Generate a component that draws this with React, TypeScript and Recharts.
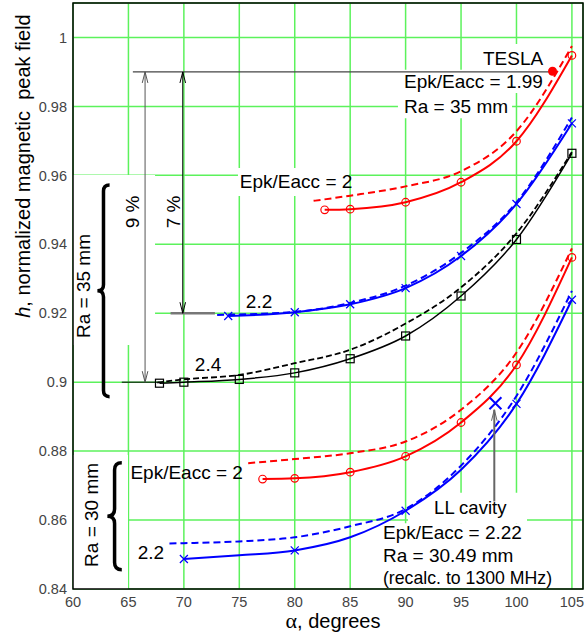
import React from "react";
import {
  LineChart,
  Line,
  XAxis,
  YAxis,
  CartesianGrid,
  ReferenceLine,
  ReferenceDot,
  ReferenceArea,
  Label,
} from "recharts";

const alphaTicks = [60, 65, 70, 75, 80, 85, 90, 95, 100, 105];
const hTicks = [0.84, 0.86, 0.88, 0.9, 0.92, 0.94, 0.96, 0.98, 1];

// Ra = 35 mm, Epk/Eacc = 2 (red)
const r35e2Alpha = [82.7, 85, 90, 95, 100, 105];
const r35e2H = [0.95, 0.9502, 0.9522, 0.958, 0.9699, 0.9948];
const r35e2DashAlpha = [81.7, 85, 90, 95, 100, 105];
const r35e2DashH = [0.9526, 0.9541, 0.9568, 0.9612, 0.9728, 0.9975];

// Ra = 35 mm, Epk/Eacc = 2.2 (blue)
const r35e22Alpha = [74, 80, 85, 90, 95, 100, 105];
const r35e22H = [0.9192, 0.9203, 0.9226, 0.9273, 0.9366, 0.9517, 0.9751];
const r35e22DashAlpha = [73, 80, 85, 90, 95, 100, 105];
const r35e22DashH = [0.9195, 0.9204, 0.923, 0.928, 0.9375, 0.9522, 0.9768];

// Ra = 35 mm, Epk/Eacc = 2.4 (black)
const r35e24Alpha = [67.8, 70, 75, 80, 85, 90, 95, 100, 105];
const r35e24H = [0.8997, 0.9, 0.9008, 0.9027, 0.9068, 0.9134, 0.925, 0.9414, 0.9664];
const r35e24DashAlpha = [67.6, 70, 75, 80, 85, 90, 95, 100, 105];
const r35e24DashH = [0.8999, 0.9008, 0.9021, 0.9055, 0.9094, 0.917, 0.9275, 0.9432, 0.9668];

// Ra = 30 mm, Epk/Eacc = 2 (red)
const r30e2Alpha = [77.1, 80, 85, 90, 95, 100, 105];
const r30e2H = [0.8719, 0.8721, 0.8739, 0.8785, 0.8883, 0.905, 0.9362];
const r30e2DashAlpha = [75.8, 80, 85, 90, 95, 100, 105];
const r30e2DashH = [0.8765, 0.8777, 0.8794, 0.8828, 0.892, 0.9086, 0.9388];

// Ra = 30 mm, Epk/Eacc = 2.2 (blue)
const r30e22Alpha = [70, 75, 80, 85, 90, 95, 100, 105];
const r30e22H = [0.8487, 0.8498, 0.8512, 0.855, 0.8627, 0.8746, 0.8937, 0.9239];
const r30e22Marked = [70, 80, 90, 100, 105];
const r30e22DashAlpha = [68.7, 70, 75, 80, 85, 90, 95, 100, 105];
const r30e22DashH = [0.8532, 0.8533, 0.8538, 0.855, 0.8582, 0.8632, 0.8758, 0.896, 0.9265];

// single cavities
const teslaAlpha = 103.25;
const teslaH = 0.9902;
const llAlpha = 98.1;
const llH = 0.8939;

const pts = (xs: number[], ys: number[]) => xs.map((x, i) => ({ x, y: ys[i] }));

const FONT = '"Liberation Sans", Arial, sans-serif';
const GRID = "#5cf25c";

// white text regions that hide the grid
const boxes = [
  [60, 67.4, 0.9601, 0.9108],
  [60, 64.96, 0.8789, 0.84],
  [74.88, 84.89, 0.9621, 0.954],
  [96.8, 102.66, 0.9981, 0.9906],
  [89.31, 102.66, 0.9906, 0.9839],
  [89.31, 99.6, 0.9839, 0.9766],
  [90.22, 100.95, 0.8679, 0.8591],
  [87.69, 104.47, 0.8591, 0.8403],
];

const labels = [
  { text: "9 %", x: 65.36, y: 0.9494, rotate: true },
  { text: "7 %", x: 69.03, y: 0.9494, rotate: true },
  { text: "Ra = 35 mm", x: 60.97, y: 0.9279, rotate: true },
  { text: "Ra = 30 mm", x: 61.69, y: 0.8615, rotate: true },
  { text: "Epk/Eacc = 2", x: 65.18, y: 0.8738 },
  { text: "2.2", x: 65.84, y: 0.8506 },
  { text: "Epk/Eacc = 2", x: 75.05, y: 0.9581 },
  { text: "2.2", x: 75.59, y: 0.9234 },
  { text: "2.4", x: 70.99, y: 0.905 },
  { text: "TESLA", x: 102.41, y: 0.9939, end: true },
  { text: "Epk/Eacc = 1.99", x: 89.86, y: 0.9871 },
  { text: "Ra = 35 mm", x: 89.86, y: 0.9799 },
  { text: "LL cavity", x: 92.57, y: 0.8636, size: 18.5 },
  { text: "Epk/Eacc = 2.22", x: 87.96, y: 0.8563 },
  { text: "Ra = 30.49 mm", x: 87.96, y: 0.8497 },
  { text: "(recalc. to 1300 MHz)", x: 87.96, y: 0.8433, size: 17.7 },
];

function marker(kind: string, color: string, marked?: number[]) {
  return (p: any) => {
    const { cx, cy, payload, index } = p;
    const key = `${kind}${color}${index}`;
    if (cx == null || (marked && !marked.includes(payload.x))) return <g key={key} />;
    if (kind === "circle")
      return <circle key={key} cx={cx} cy={cy} r={3.8} fill="none" stroke={color} strokeWidth={1.2} />;
    if (kind === "square")
      return <rect key={key} x={cx - 4} y={cy - 4} width={8} height={8} fill="none" stroke={color} strokeWidth={1.2} />;
    const s = 4;
    return (
      <path key={key} d={`M${cx - s},${cy - s}L${cx + s},${cy + s}M${cx - s},${cy + s}L${cx + s},${cy - s}`} stroke={color} strokeWidth={1.2} />
    );
  };
}

function arrow(color: string, width: number, both: boolean) {
  return (p: any) => {
    const { x1, y1, x2, y2 } = p;
    const head = (x: number, y: number, d: number) => `M${x - 2.8},${y + d * 11}L${x},${y}L${x + 2.8},${y + d * 11}`;
    return (
      <g>
        <line x1={x1} y1={y1} x2={x2} y2={y2} stroke={color} strokeWidth={width} />
        <path d={head(x1, y1, 1) + (both ? head(x2, y2, -1) : "")} fill="none" stroke={color} strokeWidth={1} />
      </g>
    );
  };
}

function brace(p: any) {
  const { x1, y1, x2, y2 } = p;
  const xs = (x1 + x2) / 2;
  const r = (x2 - x1) / 2;
  const ym = (y1 + y2) / 2;
  const d = `M${x2},${y1}Q${xs},${y1} ${xs},${y1 + r}L${xs},${ym - r}Q${xs},${ym} ${x1},${ym}Q${xs},${ym} ${xs},${ym + r}L${xs},${y2 - r}Q${xs},${y2} ${x2},${y2}`;
  return <path d={d} fill="none" stroke="#000" strokeWidth={3.5} />;
}

function textShape(t: any) {
  return (p: any) => (
    <text
      x={p.cx}
      y={p.cy}
      textAnchor={t.rotate ? "middle" : t.end ? "end" : "start"}
      dominantBaseline="central"
      fontSize={t.size || 19}
      fontFamily={FONT}
      fill="#000"
      transform={t.rotate ? `rotate(-90 ${p.cx} ${p.cy})` : undefined}
    >
      {t.text}
    </text>
  );
}

function bigCross(p: any) {
  const { cx, cy } = p;
  const s = 6;
  return <path d={`M${cx - s},${cy - s}L${cx + s},${cy + s}M${cx - s},${cy + s}L${cx + s},${cy - s}`} stroke="#0000ff" strokeWidth={2} />;
}

const tickStyle = { fontSize: 14.5, fill: "#444", fontFamily: FONT };

export default function App() {
  return (
    <div style={{ position: "absolute", left: 0, top: 0, background: "#fff" }}>
      <LineChart width={588} height={636} margin={{ top: 3, right: 5, bottom: 0, left: 0 }} style={{ fontFamily: FONT }}>
        <CartesianGrid stroke={GRID} strokeWidth={1.5} />
        {boxes.map((b, i) => (
          <ReferenceArea key={`b${i}`} x1={b[0]} x2={b[1]} y1={b[2]} y2={b[3]} fill="#fff" fillOpacity={1} stroke="none" zIndex={-50} />
        ))}
        <XAxis
          type="number"
          dataKey="x"
          domain={[60, 106]}
          ticks={alphaTicks}
          allowDataOverflow
          interval={0}
          tickLine={false}
          axisLine={false}
          height={47}
          tick={tickStyle}
        >
          <Label
            content={() => (
              <text x={333} y={628} textAnchor="middle" fontSize={20} fontFamily={FONT} fill="#000">
                <tspan fontFamily='"Liberation Serif", serif' fontSize={22}>α</tspan>
                <tspan>, degrees</tspan>
              </text>
            )}
          />
        </XAxis>
        <YAxis
          type="number"
          domain={[0.84, 1.01]}
          ticks={hTicks}
          allowDataOverflow
          interval={0}
          tickLine={false}
          axisLine={false}
          width={73}
          tickMargin={0}
          tick={tickStyle}
        >
          <Label
            content={() => (
              <text x={30} y={166} textAnchor="middle" fontSize={20} fontFamily={FONT} fill="#000" transform="rotate(-90 30 166)" style={{ whiteSpace: "pre" }}>
                <tspan fontStyle="italic">h</tspan>
                <tspan>, normalized magnetic  peak field</tspan>
              </text>
            )}
          />
        </YAxis>

        <ReferenceLine segment={[{ x: 65.4, y: 0.99 }, { x: 102.9, y: 0.99 }]} stroke="#444" strokeWidth={1.2} zIndex={450} />
        <ReferenceLine segment={[{ x: 68.8, y: 0.92 }, { x: 72.8, y: 0.92 }]} stroke="#777" strokeWidth={2.5} zIndex={450} />
        <ReferenceLine segment={[{ x: 64.4, y: 0.9 }, { x: 67.8, y: 0.9 }]} stroke="#000" strokeWidth={1} zIndex={450} />
        <ReferenceLine segment={[{ x: 66.5, y: 0.99 }, { x: 66.5, y: 0.9 }]} shape={arrow("#555", 1, true)} zIndex={450} />
        <ReferenceLine segment={[{ x: 69.9, y: 0.99 }, { x: 69.9, y: 0.92 }]} shape={arrow("#000", 1, true)} zIndex={450} />
        <ReferenceLine segment={[{ x: 98, y: 0.892 }, { x: 98, y: 0.8654 }]} shape={arrow("#666", 2, false)} zIndex={450} />
        <ReferenceLine segment={[{ x: 62.2, y: 0.9572 }, { x: 63.3, y: 0.8958 }]} shape={brace} zIndex={450} />
        <ReferenceLine segment={[{ x: 63.1, y: 0.8766 }, { x: 64.4, y: 0.8456 }]} shape={brace} zIndex={450} />

        <Line data={pts(r35e2DashAlpha, r35e2DashH)} dataKey="y" type="monotone" stroke="#ff0000" strokeWidth={2} strokeDasharray="7 4" dot={false} isAnimationActive={false} />
        <Line data={pts(r35e2Alpha, r35e2H)} dataKey="y" type="monotone" stroke="#ff0000" strokeWidth={2} dot={marker("circle", "#ff0000")} isAnimationActive={false} />
        <Line data={pts(r35e22DashAlpha, r35e22DashH)} dataKey="y" type="monotone" stroke="#0000ff" strokeWidth={2} strokeDasharray="7 4" dot={false} isAnimationActive={false} />
        <Line data={pts(r35e22Alpha, r35e22H)} dataKey="y" type="monotone" stroke="#0000ff" strokeWidth={2} dot={marker("cross", "#0000ff")} isAnimationActive={false} />
        <Line data={pts(r35e24DashAlpha, r35e24DashH)} dataKey="y" type="monotone" stroke="#000" strokeWidth={1.8} strokeDasharray="6 3" dot={false} isAnimationActive={false} />
        <Line data={pts(r35e24Alpha, r35e24H)} dataKey="y" type="monotone" stroke="#000" strokeWidth={1.5} dot={marker("square", "#000")} isAnimationActive={false} />
        <Line data={pts(r30e2DashAlpha, r30e2DashH)} dataKey="y" type="monotone" stroke="#ff0000" strokeWidth={2} strokeDasharray="7 4" dot={false} isAnimationActive={false} />
        <Line data={pts(r30e2Alpha, r30e2H)} dataKey="y" type="monotone" stroke="#ff0000" strokeWidth={2} dot={marker("circle", "#ff0000")} isAnimationActive={false} />
        <Line data={pts(r30e22DashAlpha, r30e22DashH)} dataKey="y" type="monotone" stroke="#0000ff" strokeWidth={2} strokeDasharray="7 4" dot={false} isAnimationActive={false} />
        <Line data={pts(r30e22Alpha, r30e22H)} dataKey="y" type="monotone" stroke="#0000ff" strokeWidth={2} dot={marker("cross", "#0000ff", r30e22Marked)} isAnimationActive={false} />

        <ReferenceDot x={teslaAlpha} y={teslaH} r={4.5} fill="#ff0000" stroke="none" zIndex={1500} />
        <ReferenceDot x={llAlpha} y={llH} r={6} shape={bigCross} zIndex={1500} />

        <ReferenceArea x1={60} x2={106} y1={0.84} y2={1.01} fill="none" fillOpacity={0} stroke="#000" strokeWidth={1.5} zIndex={1600} />

        {labels.map((t, i) => (
          <ReferenceDot key={`t${i}`} x={t.x} y={t.y} r={1} shape={textShape(t)} zIndex={2000} />
        ))}
      </LineChart>
    </div>
  );
}
